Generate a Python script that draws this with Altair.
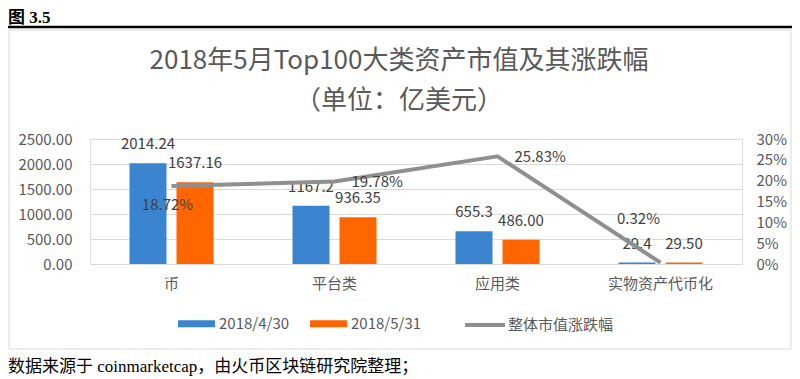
import altair as alt
import pandas as pd

# ---- data ----
categories = ["币", "平台类", "应用类", "实物资产代币化"]
series_names = ["2018/4/30", "2018/5/31"]
values_0430 = [2014.24, 1167.2, 655.3, 29.4]
values_0531 = [1637.16, 936.35, 486.00, 29.50]
labels_0430 = ["2014.24", "1167.2", "655.3", "29.4"]
labels_0531 = ["1637.16", "936.35", "486.00", "29.50"]
line_name = "整体市值涨跌幅"
change = [0.1872, 0.1978, 0.2583, 0.0032]
change_labels = ["18.72%", "19.78%", "25.83%", "0.32%"]
left_ticks = [0, 500, 1000, 1500, 2000, 2500]
right_ticks = [0, 0.05, 0.10, 0.15, 0.20, 0.25, 0.30]
title_lines = ["2018年5月Top100大类资产市值及其涨跌幅", "（单位：亿美元）"]
header = "图 3.5"
footnote = "数据来源于 coinmarketcap，由火币区块链研究院整理；"

rows = []
for i, c in enumerate(categories):
    rows.append({"category": c, "series": series_names[0], "value": values_0430[i], "label": labels_0430[i]})
    rows.append({"category": c, "series": series_names[1], "value": values_0531[i], "label": labels_0531[i]})
bars_df = pd.DataFrame(rows)
line_df = pd.DataFrame({"category": categories, "change": change, "label": change_labels,
                        "name": [line_name] * len(categories)})

FONT = "Noto Sans CJK SC"
SERIF = "Liberation Serif, Noto Sans CJK SC"
AXIS_GREY = "#595959"
LABEL_GREY = "#404040"

x_axis = alt.Axis(title=None, labelAngle=0, domain=False, ticks=False,
                  labelPadding=12, labelFontSize=15, labelColor=AXIS_GREY,
                  labelFont=FONT, grid=False)
x_scale = alt.Scale(paddingInner=0.42, paddingOuter=0.21)
x_main = alt.X("category:N", sort=categories, scale=x_scale, axis=x_axis)
xoff = alt.XOffset("series:N", sort=series_names,
                   scale=alt.Scale(paddingInner=0.213, paddingOuter=0.112))

left_axis = alt.Axis(orient="left", values=left_ticks, format=".2f", title=None,
                     domain=False, ticks=False, grid=True, gridColor="#d9d9d9",
                     labelPadding=18, labelFontSize=15, labelColor=AXIS_GREY,
                     labelFont=FONT)
y_left = alt.Y("value:Q", scale=alt.Scale(domain=[0, 2500]), axis=left_axis)

fill_enc = alt.Fill("series:N", sort=series_names,
                    scale=alt.Scale(domain=series_names, range=["#3B84CF", "#FF6600"]),
                    legend=alt.Legend(orient="none", legendX=88, legendY=166,
                                      direction="horizontal", title=None, padding=0,
                                      symbolType="M-1,-0.19H1V0.19H-1Z", symbolSize=1369,
                                      symbolStrokeWidth=0,
                                      labelFontSize=15, labelColor=AXIS_GREY, labelFont=FONT,
                                      labelOffset=4, columnPadding=20))

bars = alt.Chart(bars_df).mark_bar().encode(x=x_main, xOffset=xoff, y=y_left, fill=fill_enc)
bar_text = alt.Chart(bars_df).mark_text(dy=-14, baseline="alphabetic", fontSize=15,
                                        color=LABEL_GREY, font=FONT).encode(
    x=x_main, xOffset=xoff, y=y_left, text="label:N")
bar_group = alt.layer(bars, bar_text)

right_axis = alt.Axis(orient="right", values=right_ticks, format=".0%", title=None,
                      domain=False, ticks=False, grid=False, labelPadding=14,
                      labelFontSize=15, labelColor=AXIS_GREY, labelFont=FONT)
y_right = alt.Y("change:Q", scale=alt.Scale(domain=[0, 0.3]), axis=right_axis)
stroke_enc = alt.Stroke("name:N", scale=alt.Scale(domain=[line_name], range=["#8F8F8F"]),
                        legend=alt.Legend(orient="none", legendX=373, legendY=164,
                                          direction="horizontal", title=None, padding=0,
                                          symbolType="stroke", symbolSize=1600,
                                          symbolStrokeWidth=4,
                                          labelFontSize=15, labelColor=AXIS_GREY,
                                          labelFont=FONT, labelOffset=1))
line = alt.Chart(line_df).mark_line(strokeWidth=4, strokeJoin="round").encode(
    x=x_main, y=y_right, stroke=stroke_enc)

offsets = [("center", -4, 19), ("left", 17, 0), ("left", 17, 1), ("center", -22, -44)]
line_texts = []
for i, c in enumerate(categories):
    al, dx, dy = offsets[i]
    line_texts.append(
        alt.Chart(line_df).transform_filter(alt.datum.category == c).mark_text(
            align=al, baseline="middle", dx=dx, dy=dy, fontSize=15, color=LABEL_GREY, font=FONT
        ).encode(x=x_main, y=y_right, text="label:N"))
line_group = alt.layer(line, *line_texts)

one = pd.DataFrame({"k": [0]})
box = alt.Chart(one).mark_rect(fillOpacity=0, stroke="#d9d9d9", strokeWidth=1).encode(
    x=alt.value(-81), x2=alt.value(701), y=alt.value(-109), y2=alt.value(210))
top_rule = alt.Chart(one).mark_rule(color="black", strokeWidth=2.5).encode(
    x=alt.value(-82), x2=alt.value(702), y=alt.value(-112))
header_t = alt.Chart(pd.DataFrame({"t": [header]})).mark_text(
    align="left", baseline="alphabetic", fontSize=17, fontWeight="bold", font=SERIF,
    color="black").encode(x=alt.value(-82), y=alt.value(-116), text="t:N")
title1 = alt.Chart(pd.DataFrame({"t": [title_lines[0]]})).mark_text(
    align="center", baseline="middle", fontSize=26, font=FONT, color=AXIS_GREY).encode(
    x=alt.value(309), y=alt.value(-78), text="t:N")
title2 = alt.Chart(pd.DataFrame({"t": [title_lines[1]]})).mark_text(
    align="center", baseline="middle", fontSize=26, font=FONT, color=AXIS_GREY).encode(
    x=alt.value(309), y=alt.value(-38), text="t:N")
foot = alt.Chart(pd.DataFrame({"t": [footnote]})).mark_text(
    align="left", baseline="middle", fontSize=17, font=SERIF, color="black").encode(
    x=alt.value(-82), y=alt.value(228), text="t:N")
deco = alt.layer(box, top_rule, header_t, title1, title2, foot)

chart = alt.layer(bar_group, line_group, deco).resolve_scale(
    y="independent", fill="independent", stroke="independent"
).properties(
    width=652, height=125,
    padding={"left": 82, "top": 131, "right": 50, "bottom": 125},
    autosize=alt.AutoSizeParams(type="none"),
).configure_view(stroke=None).configure(background="white")

chart.save("out.html", embed_options={"renderer": "svg", "actions": False})
